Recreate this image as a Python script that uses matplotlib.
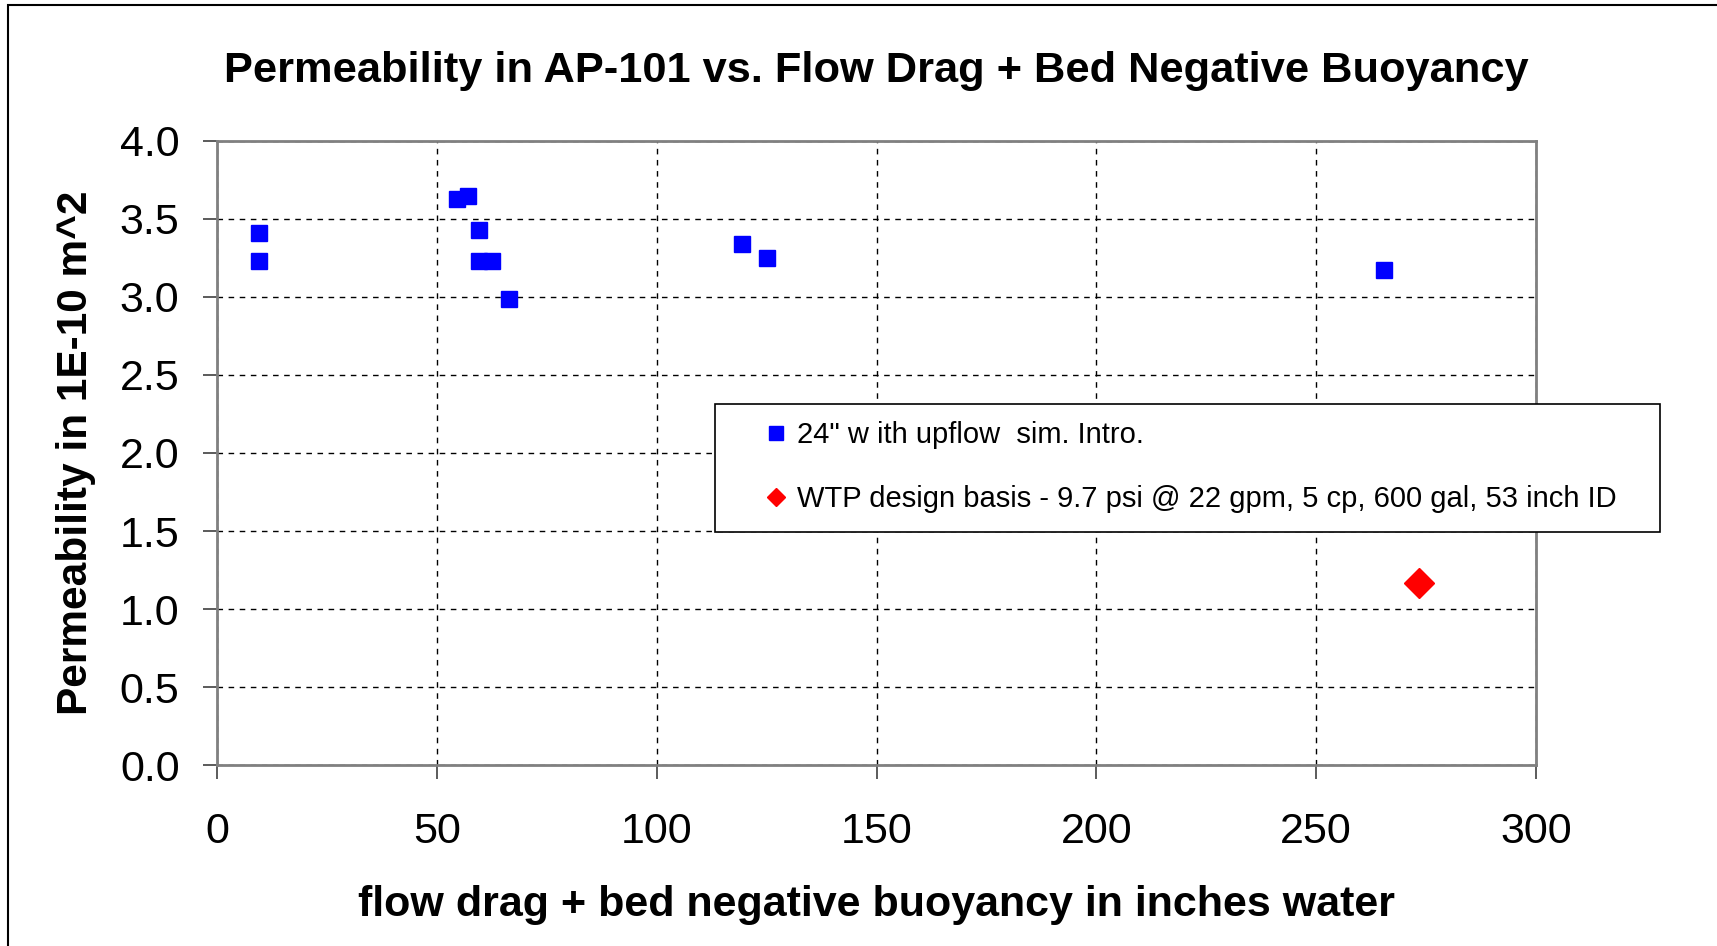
import numpy as np
import matplotlib.pyplot as plt
from matplotlib.patches import Rectangle

plt.rcParams['font.family'] = ['Liberation Sans', 'DejaVu Sans']

# 24" with upflow sim. Intro.
drag_24 = [9.5, 9.5, 54.5, 57.0, 59.5, 59.5, 62.5, 66.3, 119.5, 125.0, 265.5]
perm_24 = [3.41, 3.23, 3.63, 3.65, 3.43, 3.23, 3.23, 2.99, 3.34, 3.25, 3.17]

# WTP design basis point
drag_wtp = [273.3]
perm_wtp = [1.165]

label_24 = '24" w ith upflow  sim. Intro.'
label_wtp = 'WTP design basis - 9.7 psi @ 22 gpm, 5 cp, 600 gal, 53 inch ID'

fig = plt.figure(figsize=(17.17, 9.46), dpi=100)
ax = fig.add_axes([0.1264, 0.1913, 0.7682, 0.6597])

ax.plot(drag_24, perm_24, 's', color='#0000FF', ms=11.5, mec='#0000FF',
        label=label_24, zorder=3)
ax.plot(drag_wtp, perm_wtp, 'D', color='#FF0000', ms=15, mec='#FF0000',
        label=label_wtp, zorder=3)

ax.set_xlim(0, 300)
ax.set_ylim(0, 4.0)
ax.set_xticks(np.arange(0, 301, 50))
ax.set_yticks(np.arange(0, 4.01, 0.5))
ax.set_yticklabels(['%.1f' % v for v in np.arange(0, 4.01, 0.5)])
ax.grid(True, color='black', linestyle=(0, (4, 4)), linewidth=1)
ax.set_axisbelow(True)

for s in ax.spines.values():
    s.set_color('#808080')
    s.set_linewidth(2)
ax.tick_params(axis='both', direction='out', length=10, width=1.2,
               color='#404040', labelsize=31)
ax.tick_params(axis='x', pad=24)
ax.tick_params(axis='y', pad=17)

ax.set_title('Permeability in AP-101 vs. Flow Drag + Bed Negative Buoyancy',
             fontsize=31.2, fontweight='bold', y=1.099, va='center')
ax.set_xlabel('flow drag + bed negative buoyancy in inches water',
              fontsize=31, fontweight='bold', va='center')
ax.xaxis.set_label_coords(0.5, -0.224)
ax.set_ylabel('Permeability in 1E-10 m^2', fontsize=30.5, fontweight='bold',
              va='center')
ax.yaxis.set_label_coords(-0.1067, 0.5)

# legend box (extends past the plot area on the right)
ax.add_patch(Rectangle((0.3776, 0.3734), 0.7165, 0.2051, transform=ax.transAxes,
                       facecolor='white', edgecolor='black', linewidth=1.2,
                       clip_on=False, zorder=4))
leg = ax.legend(loc='upper left', bbox_to_anchor=(0.417, 0.551),
                fontsize=21, frameon=False, handlelength=0.6,
                handletextpad=0.42, borderpad=0, labelspacing=1.22,
                borderaxespad=0)
leg.set_zorder(5)
leg.legend_handles[0].set_markersize(10.5)
leg.legend_handles[1].set_markersize(9.5)

# outer chart border (left and top edges visible)
fig.patches.append(Rectangle((8 / 1717, -0.5), 2, 1.5 - 5 / 946,
                             transform=fig.transFigure, fill=False,
                             edgecolor='black', linewidth=1.5))

fig.savefig('out.png', dpi=100)
